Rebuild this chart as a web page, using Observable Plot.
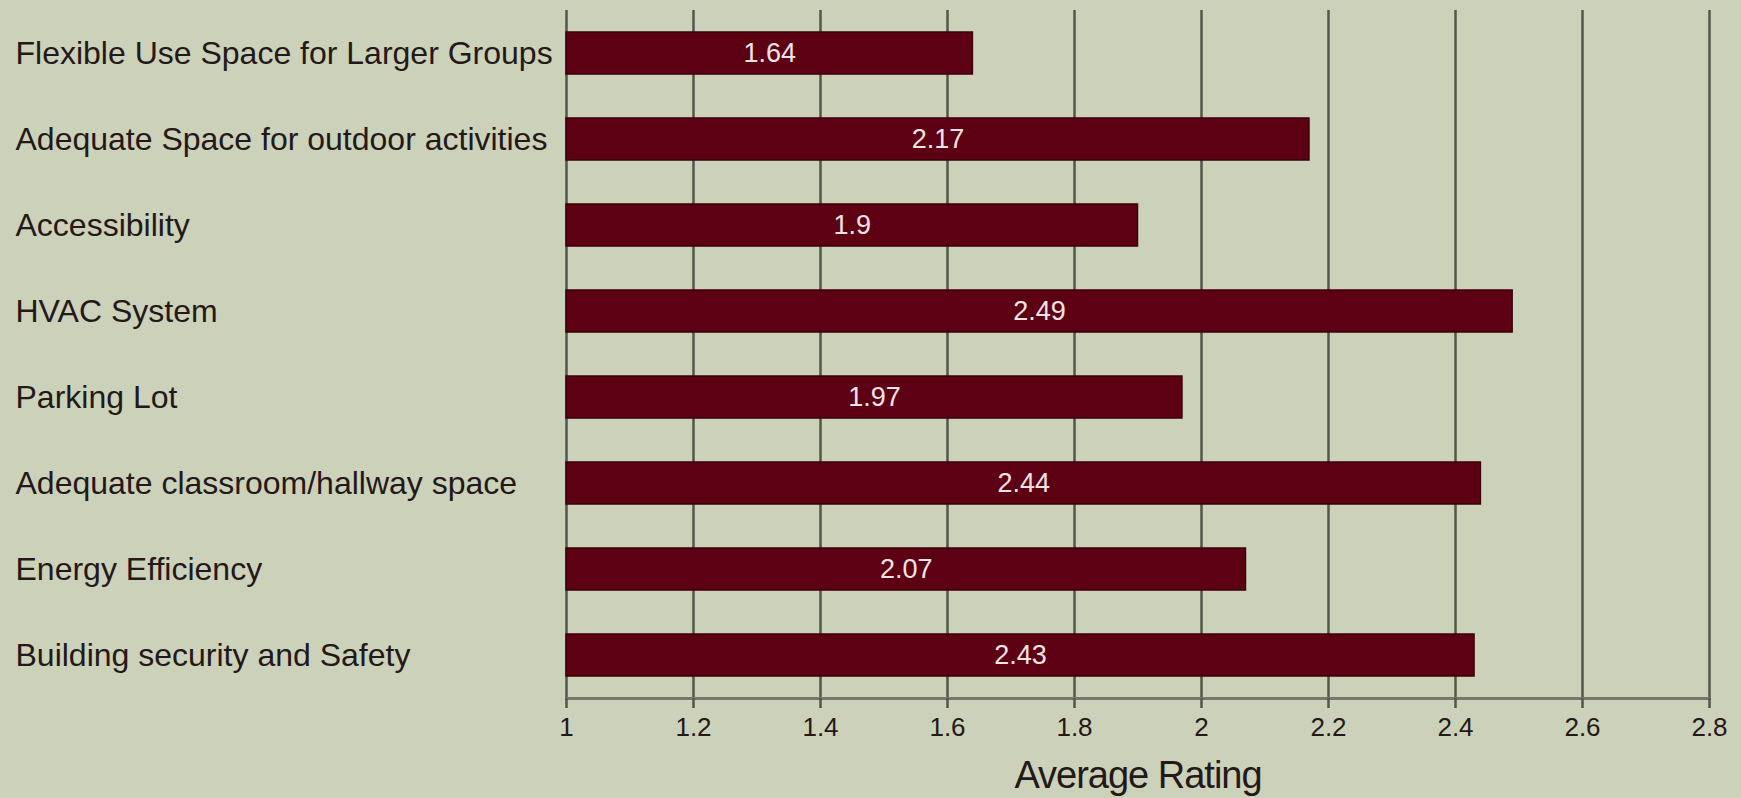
<!DOCTYPE html>
<html><head><meta charset="utf-8">
<script src="https://cdn.jsdelivr.net/npm/d3@7"></script>
<script src="https://cdn.jsdelivr.net/npm/@observablehq/plot@0.6"></script>
<style>html,body{margin:0;padding:0;background:#ccd1b9;overflow:hidden;}</style>
</head><body><div id="chart"></div>
<script>
const categories = [
  "Flexible Use Space for Larger Groups",
  "Adequate Space for outdoor activities",
  "Accessibility",
  "HVAC System",
  "Parking Lot",
  "Adequate classroom/hallway space",
  "Energy Efficiency",
  "Building security and Safety"
];
const ratings = [1.64, 2.17, 1.9, 2.49, 1.97, 2.44, 2.07, 2.43];
const xTicks = [1, 1.2, 1.4, 1.6, 1.8, 2, 2.2, 2.4, 2.6, 2.8];
const xTickLabels = ["1", "1.2", "1.4", "1.6", "1.8", "2", "2.2", "2.4", "2.6", "2.8"];
const xTitle = "Average Rating";

const rows = categories.map((c, i) => ({category: c, rating: ratings[i], label: String(ratings[i])}));
const textColor = "#241818";

const chart = Plot.plot({
  width: 1741, height: 798,
  marginLeft: 566, marginRight: 32, marginTop: 10, marginBottom: 100,
  style: {background: "#ccd1b9", fontFamily: "'Liberation Sans', Arial, sans-serif", color: textColor},
  x: {domain: [1, 2.8]},
  y: {domain: categories, paddingInner: 0.512, paddingOuter: 0.251},
  marks: [
    Plot.ruleX(xTicks, {stroke: "#55554b", strokeWidth: 2.5}),
    Plot.barX(rows, {x1: 1, x2: "rating", y: "category", fill: "#5e0013", stroke: "#3a000c", strokeWidth: 1.5}),
    Plot.text(rows, {x: d => (1 + d.rating) / 2, y: "category", text: "label", fill: "#f2e4e4", fontSize: 27}),
    Plot.frame({anchor: "bottom", stroke: "#77776d", strokeWidth: 3}),
    Plot.axisX({ticks: xTicks, tickFormat: d => xTickLabels[xTicks.indexOf(d)], tickSize: 10, tickPadding: 9,
      fontSize: 26, stroke: "#55554b", strokeWidth: 2.5, fill: textColor, label: null}),
    Plot.axisY({tickSize: 0, tickPadding: 551, textAnchor: "start", fontSize: 32, fill: textColor, label: null}),
    Plot.text([xTitle], {frameAnchor: "bottom", dy: 89, text: d => d, fontSize: 38, lineAnchor: "bottom", fill: textColor})
  ]
});
d3.select(chart).selectAll("text").filter(function() { return this.textContent === xTitle; })
  .style("letter-spacing", "-1px");
document.getElementById("chart").appendChild(chart);
</script>
</body></html>
